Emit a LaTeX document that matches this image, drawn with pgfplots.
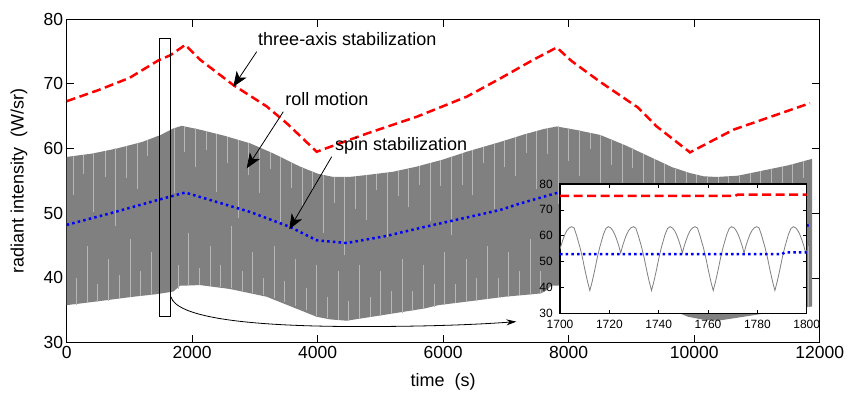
\documentclass[border=0pt]{standalone}
\usepackage{fontspec}
\setmainfont{Liberation Sans}
\usepackage{pgfplots}
\pgfplotsset{compat=1.18}
\usetikzlibrary{arrows.meta}
\definecolor{rollgray}{RGB}{128,128,128}
\definecolor{streak}{RGB}{182,182,182}
\definecolor{mred}{RGB}{255,0,0}
\definecolor{mblue}{RGB}{0,0,255}
\begin{document}
\begin{tikzpicture}
\useasboundingbox (0,0) rectangle (851pt,392pt);
\begin{axis}[
  at={(66.7pt,49.3pt)}, anchor=south west,
  scale only axis, width=753pt, height=323.7pt,
  xmin=0, xmax=12000, ymin=30, ymax=80,
  xtick={0,2000,...,12000}, ytick={30,40,...,80},
  scaled ticks=false,
  /pgf/number format/1000 sep={},
  /pgf/number format/assume math mode=true,
  tick align=inside, major tick length=7.5pt,
  axis line style={line width=1pt},
  tick style={line width=0.8pt, black},
  ticklabel style={font=\fontsize{17.5}{20}\selectfont},
  xlabel={time\ \ (s)}, ylabel={radiant intensity\ \ (W/sr)},
  every axis x label/.style={at={(rel axis cs:0.5,0)}, anchor=center, yshift=-39pt},
  every axis y label/.style={at={(rel axis cs:0,0.5)}, anchor=center, xshift=-47.7pt, rotate=90},
  label style={font=\fontsize{18}{21}\selectfont},
  unbounded coords=jump,
]
% roll motion envelope (gray band)
\addplot[fill=rollgray, draw=none] coordinates {
(0,58.7) (400,59.2) (800,60.0) (1200,61.0) (1500,62.1) (1700,63.1) (1833,63.5)
(2127,62.9) (2500,62.0) (2922,60.8) (3300,59.2) (3718,57.2) (4000,56.1) (4249,55.6)
(4500,55.6) (4781,55.9) (5200,56.4) (5578,57.2) (6000,58.3) (6375,59.5) (6906,61.0)
(7300,62.2) (7600,63.0) (7809,63.4) (8100,62.9) (8500,62.1) (8900,60.5) (9297,58.7)
(9650,57.1) (9933,56.2) (10150,55.7) (10358,55.6) (10700,55.8) (11100,56.6) (11500,57.4)
(11880,58.4)
(11880,35.6) (11630,35.3) (10913,34.2) (10382,33.4) (10120,33.6) (9904,34.0) (9520,35.5)
(9107,37.1) (8520,38.3) (8045,38.9) (7726,38.8) (7620,37.9) (7545,37.6) (6982,37.1)
(6420,36.4) (5920,35.8) (5710,35.3) (4993,34.2) (4462,33.4) (4200,33.6) (3984,34.0)
(3600,35.5) (3187,37.1) (2600,38.3) (2125,38.9) (1806,38.8) (1700,37.9) (1434,37.5)
(1062,37.1) (500,36.4) (0,35.8)
} -- cycle;
% light streaks in the roll-motion band
\addplot[streak, line width=0.5pt] coordinates {
(100,58.8) (100,52.8) (100,nan) (160,35.9) (160,40) (160,nan)
(270,59.0) (270,56.0) (270,nan) (330,36.1) (330,45) (330,nan)
(430,59.2) (430,50.2) (430,nan) (490,36.3) (490,39) (490,nan)
(610,59.6) (610,55.6) (610,nan) (670,36.5) (670,43) (670,nan)
(780,60.0) (780,48.0) (780,nan) (840,36.8) (840,40.5) (840,nan)
(950,60.4) (950,55.4) (950,nan) (1010,37.0) (1010,46) (1010,nan)
(1120,60.8) (1120,53.8) (1120,nan) (1180,37.2) (1180,41) (1180,nan)
(1290,61.3) (1290,58.8) (1290,nan) (1350,37.3) (1350,44) (1350,nan)
(1720,63.1) (1720,53.1) (1720,nan) (1780,38.3) (1780,42) (1780,nan)
(1880,63.4) (1880,59.4) (1880,nan) (1940,38.8) (1940,47) (1940,nan)
(2050,63.1) (2050,57.1) (2050,nan) (2110,38.9) (2110,41.5) (2110,nan)
(2220,62.7) (2220,59.7) (2220,nan) (2280,38.8) (2280,45) (2280,nan)
(2390,62.3) (2390,53.3) (2390,nan) (2450,38.6) (2450,42) (2450,nan)
(2560,61.8) (2560,57.8) (2560,nan) (2620,38.4) (2620,48) (2620,nan)
(2730,61.3) (2730,49.3) (2730,nan) (2790,38.0) (2790,41) (2790,nan)
(2900,60.9) (2900,55.9) (2900,nan) (2960,37.7) (2960,44) (2960,nan)
(3070,60.1) (3070,53.1) (3070,nan) (3130,37.3) (3130,40) (3130,nan)
(3240,59.4) (3240,56.9) (3240,nan) (3300,36.9) (3300,45) (3300,nan)
(3410,58.7) (3410,48.7) (3410,nan) (3470,36.3) (3470,39.5) (3470,nan)
(3580,57.9) (3580,53.9) (3580,nan) (3640,35.6) (3640,43) (3640,nan)
(3750,57.1) (3750,51.1) (3750,nan) (3810,35.0) (3810,38.5) (3810,nan)
(3920,56.4) (3920,53.4) (3920,nan) (3980,34.2) (3980,42) (3980,nan)
(4090,55.9) (4090,46.9) (4090,nan) (4150,33.8) (4150,37) (4150,nan)
(4260,55.6) (4260,51.6) (4260,nan) (4320,33.5) (4320,41) (4320,nan)
(4430,55.6) (4430,43.6) (4430,nan) (4490,33.4) (4490,36.5) (4490,nan)
(4600,55.7) (4600,50.7) (4600,nan) (4660,33.6) (4660,42) (4660,nan)
(4770,55.9) (4770,48.9) (4770,nan) (4830,33.9) (4830,37) (4830,nan)
(4940,56.1) (4940,53.6) (4940,nan) (5000,34.1) (5000,41) (5000,nan)
(5110,56.3) (5110,46.3) (5110,nan) (5170,34.4) (5170,38) (5170,nan)
(5280,56.6) (5280,52.6) (5280,nan) (5340,34.6) (5340,43) (5340,nan)
(5450,56.9) (5450,50.9) (5450,nan) (5510,34.9) (5510,38) (5510,nan)
(5620,57.3) (5620,54.3) (5620,nan) (5680,35.2) (5680,42) (5680,nan)
(5790,57.8) (5790,48.8) (5790,nan) (5850,35.5) (5850,39) (5850,nan)
(5960,58.2) (5960,54.2) (5960,nan) (6020,35.8) (6020,44) (6020,nan)
(6130,58.7) (6130,46.7) (6130,nan) (6190,36.1) (6190,39) (6190,nan)
(6300,59.3) (6300,54.3) (6300,nan) (6360,36.3) (6360,43) (6360,nan)
(6470,59.8) (6470,52.8) (6470,nan) (6530,36.5) (6530,40) (6530,nan)
(6640,60.3) (6640,57.8) (6640,nan) (6700,36.7) (6700,45) (6700,nan)
(6810,60.7) (6810,50.7) (6810,nan) (6870,36.9) (6870,40) (6870,nan)
(6980,61.2) (6980,57.2) (6980,nan) (7040,37.1) (7040,44) (7040,nan)
(7150,61.7) (7150,55.7) (7150,nan) (7210,37.3) (7210,41) (7210,nan)
(7320,62.3) (7320,59.3) (7320,nan) (7380,37.4) (7380,46) (7380,nan)
(7490,62.7) (7490,53.7) (7490,nan) (7550,37.6) (7550,41) (7550,nan)
(7660,63.1) (7660,59.1) (7660,nan) (7830,63.4) (7830,51.4) (7830,nan)
(8000,63.1) (8000,58.1) (8000,nan) (8170,62.8) (8170,55.8) (8170,nan)
(8340,62.4) (8340,59.9) (8340,nan) (8510,62.1) (8510,52.1) (8510,nan)
(8680,61.4) (8680,57.4) (8680,nan) (8850,60.7) (8850,54.7) (8850,nan)
(9020,60.0) (9020,57.0) (9020,nan) (9190,59.2) (9190,50.2) (9190,nan)
(9360,58.4) (9360,54.4) (9360,nan) (9530,57.6) (9530,45.6) (9530,nan)
(9700,56.9) (9700,51.9) (9700,nan) (9870,56.4) (9870,49.4) (9870,nan)
(10040,55.9) (10040,53.4) (10040,nan) (10210,55.7) (10210,45.7) (10210,nan)
(10380,55.6) (10380,51.6) (10380,nan) (10550,55.7) (10550,49.7) (10550,nan)
(10720,55.8) (10720,52.8) (10720,nan) (10890,56.2) (10890,47.2) (10890,nan)
(11060,56.5) (11060,52.5) (11060,nan) (11230,56.9) (11230,44.9) (11230,nan)
(11400,57.2) (11400,52.2) (11400,nan) (11570,57.6) (11570,50.6) (11570,nan)
(11740,58.0) (11740,55.5) (11740,nan) (11820,35.5) (11820,45)
};
% three-axis stabilization
\addplot[mred, line width=2.5pt, dash pattern=on 9pt off 4.5pt] coordinates {
(0,67.3) (500,69.0) (1000,70.9) (1460,73.6) (1650,74.4) (1890,76.0) (2127,73.7)
(2655,69.8) (3187,66.5) (3506,63.9) (3984,59.5) (4781,62.3) (5578,64.9) (6375,68.0)
(6906,70.8) (7436,73.7) (7810,75.6) (8047,73.5) (8500,70.3) (9107,66.3) (9402,63.4)
(9933,59.4) (10624,62.9) (11250,65.0) (11845,67.0)
};
% spin stabilization
\addplot[mblue, line width=2.5pt, dash pattern=on 2.5pt off 3.2pt] coordinates {
(0,48.2) (700,50.0) (1434,52.0) (1890,53.2) (2127,52.5) (2922,50.2) (3554,47.9)
(3990,45.8) (4462,45.4) (5100,46.5) (5710,47.9) (6906,50.5) (7225,51.5) (7834,53.2)
(8050,52.5) (8840,50.2) (9470,47.9) (9910,45.8) (10380,45.4) (11020,46.5) (11850,48.2)
};
% zoom rectangle and arrow
\draw[line width=0.8pt] (axis cs:1470,34.1) rectangle (axis cs:1650,77.0);
\draw[line width=0.8pt, -{Stealth[length=10pt,width=6pt]}]
  (axis cs:1660,37.1) .. controls (axis cs:1750,34.0) and (axis cs:2800,32.6) .. (axis cs:4500,32.5)
  .. controls (axis cs:6000,32.45) and (axis cs:6800,33.0) .. (axis cs:7166,33.25);
% annotations
\begin{scope}[every node/.style={font=\fontsize{18}{21}\selectfont, inner sep=0pt, anchor=west}]
\node at (axis cs:3049,76.9) {three-axis stabilization};
\node at (axis cs:3480,67.6) {roll motion};
\node at (axis cs:4276,60.4) {spin stabilization};
\end{scope}
\draw[line width=0.8pt, -{Stealth[length=15pt,width=12pt,inset=4pt]}] (axis cs:3028,74.95) -- (axis cs:2655,69.54);
\draw[line width=0.8pt, -{Stealth[length=15pt,width=12pt,inset=4pt]}] (axis cs:3452,65.68) -- (axis cs:2869,56.94);
\draw[line width=0.8pt, -{Stealth[length=15pt,width=12pt,inset=4pt]}] (axis cs:4223,58.73) -- (axis cs:3547,47.52);
\end{axis}
% inset
\begin{axis}[
  at={(560pt,78.7pt)}, anchor=south west,
  scale only axis, width=246.7pt, height=129.3pt,
  xmin=1700, xmax=1800, ymin=30, ymax=80,
  xtick={1700,1720,...,1800}, ytick={30,40,...,80},
  scaled ticks=false,
  /pgf/number format/1000 sep={},
  /pgf/number format/assume math mode=true,
  tick align=inside, major tick length=3.5pt,
  axis line style={line width=1.5pt},
  tick style={line width=0.6pt, black},
  ticklabel style={font=\fontsize{12}{14}\selectfont, inner sep=1pt},
  xticklabel style={yshift=-5.5pt},
  yticklabel style={xshift=-6pt},
  axis background/.style={fill=white},
]
\addplot[rollgray, line width=0.8pt] coordinates {
(1700.0,54.7) (1700.4,56.2) (1701.2,58.5) (1702.0,60.5) (1702.8,62.0) (1703.7,63.0)
(1704.7,63.5) (1705.7,63.0) (1706.6,60.5) (1708.1,55.5) (1709.1,51.5) (1710.1,46.8)
(1711.1,42.5) (1712.1,38.8) (1713.1,42.5) (1714.1,46.8) (1715.1,51.5) (1716.1,55.5)
(1717.6,60.5) (1718.6,62.8) (1719.6,63.5) (1720.6,63.0) (1721.4,62.0) (1722.2,60.5)
(1723.0,58.5) (1723.8,56.2) (1724.6,53.3)
(1725.4,56.2) (1726.2,58.5) (1727.0,60.5) (1727.8,62.0) (1728.7,63.0) (1729.7,63.5)
(1730.7,63.0) (1731.6,60.5) (1733.1,55.5) (1734.1,51.5) (1735.1,46.8) (1736.1,42.5)
(1737.1,38.8) (1738.1,42.5) (1739.1,46.8) (1740.1,51.5) (1741.1,55.5) (1742.6,60.5)
(1743.6,62.8) (1744.6,63.5) (1745.6,63.0) (1746.4,62.0) (1747.2,60.5) (1748.0,58.5)
(1748.8,56.2) (1749.6,53.3)
(1750.4,56.2) (1751.2,58.5) (1752.0,60.5) (1752.8,62.0) (1753.7,63.0) (1754.7,63.5)
(1755.7,63.0) (1756.6,60.5) (1758.1,55.5) (1759.1,51.5) (1760.1,46.8) (1761.1,42.5)
(1762.1,38.8) (1763.1,42.5) (1764.1,46.8) (1765.1,51.5) (1766.1,55.5) (1767.6,60.5)
(1768.6,62.8) (1769.6,63.5) (1770.6,63.0) (1771.4,62.0) (1772.2,60.5) (1773.0,58.5)
(1773.8,56.2) (1774.6,53.3)
(1775.4,56.2) (1776.2,58.5) (1777.0,60.5) (1777.8,62.0) (1778.7,63.0) (1779.7,63.5)
(1780.7,63.0) (1781.6,60.5) (1783.1,55.5) (1784.1,51.5) (1785.1,46.8) (1786.1,42.5)
(1787.1,38.8) (1788.1,42.5) (1789.1,46.8) (1790.1,51.5) (1791.1,55.5) (1792.6,60.5)
(1793.6,62.8) (1794.6,63.5) (1795.6,63.0) (1796.4,62.0) (1797.2,60.5) (1798.0,58.5)
(1798.8,56.2) (1799.6,53.3) (1800.0,54.5)
};
\addplot[mred, line width=2.5pt, dash pattern=on 9pt off 4.5pt] coordinates {
(1700,75.4) (1771,75.4) (1772,75.9) (1800,75.9)
};
\addplot[mblue, line width=2.5pt, dash pattern=on 2.5pt off 3.2pt] coordinates {
(1700,52.9) (1790,52.9) (1791,53.5) (1800,53.6)
};
\end{axis}
\end{tikzpicture}
\end{document}
